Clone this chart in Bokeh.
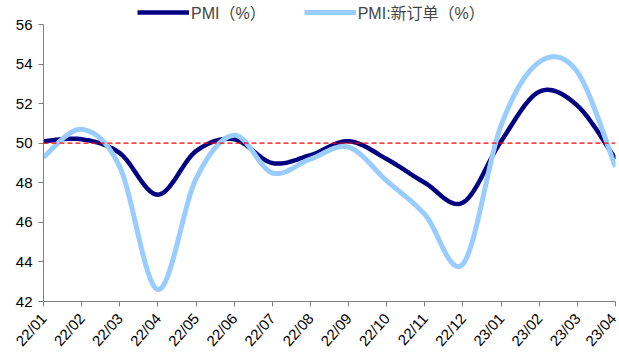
import numpy as np
from bokeh.embed import file_html
from bokeh.models import FixedTicker, Legend, LegendItem, Span
from bokeh.plotting import figure
from bokeh.resources import INLINE

# Monthly China manufacturing PMI and its new-orders sub-index
months = ["22/01", "22/02", "22/03", "22/04", "22/05", "22/06", "22/07", "22/08",
          "22/09", "22/10", "22/11", "22/12", "23/01", "23/02", "23/03", "23/04"]
pmi = [50.1, 50.2, 49.5, 47.4, 49.6, 50.2, 49.0, 49.4,
       50.1, 49.2, 48.0, 47.0, 50.1, 52.6, 51.9, 49.2]
new_orders = [49.3, 50.7, 48.8, 42.6, 48.2, 50.4, 48.5, 49.2,
              49.8, 48.1, 46.4, 43.9, 50.9, 54.1, 53.6, 48.8]
y_ticks = [42, 44, 46, 48, 50, 52, 54, 56]
threshold = 50

FONT = "Liberation Sans, Noto Sans CJK SC"


def smooth(xs, ys, steps=30):
    """Bezier smoothing through every point (tangent = neighbour difference / 6)."""
    xs = np.asarray(xs, float)
    ys = np.asarray(ys, float)
    n = len(xs)
    px, py = [], []
    for i in range(n - 1):
        i0, i3 = max(i - 1, 0), min(i + 2, n - 1)
        c1x = xs[i] + (xs[i + 1] - xs[i0]) / 6
        c1y = ys[i] + (ys[i + 1] - ys[i0]) / 6
        c2x = xs[i + 1] - (xs[i3] - xs[i]) / 6
        c2y = ys[i + 1] - (ys[i3] - ys[i]) / 6
        t = np.linspace(0, 1, steps, endpoint=(i == n - 2))
        a, b, c, d = (1 - t) ** 3, 3 * (1 - t) ** 2 * t, 3 * (1 - t) * t ** 2, t ** 3
        px.extend(a * xs[i] + b * c1x + c * c2x + d * xs[i + 1])
        py.extend(a * ys[i] + b * c1y + c * c2y + d * ys[i + 1])
    return px, py


x = list(range(len(months)))

# frame reaches the top edge so the legend sits inside it, above the 56 tick
y_lo, y_hi = 42, 56
y_top = y_hi + 24 * (y_hi - y_lo) / 277

p = figure(width=619, height=357, output_backend="svg", toolbar_location=None,
           x_range=(0, len(months) - 1), y_range=(y_lo, y_top),
           min_border_left=43, min_border_right=4, min_border_top=0, min_border_bottom=56)
p.outline_line_color = None
p.xgrid.visible = False
p.ygrid.visible = False
p.background_fill_color = "white"
p.border_fill_color = "white"

sx, sy = smooth(x, pmi)
r1 = p.line(sx, sy, line_color="#000080", line_width=4.5)
sx2, sy2 = smooth(x, new_orders)
r2 = p.line(sx2, sy2, line_color="#99CCFF", line_width=5)

p.add_layout(Span(location=threshold, dimension="width", line_color="#FF0000",
                  line_width=1.3, line_dash="5 3"))

# axes
for ax in (p.xaxis[0], p.yaxis[0]):
    ax.axis_line_color = "#808080"
    ax.major_tick_line_color = "#808080"
    ax.minor_tick_line_color = None
    ax.major_label_text_font = FONT
    ax.major_label_text_font_size = "15px"
    ax.major_label_text_color = "#000000"
    ax.major_tick_in = 0
    ax.major_tick_out = 5

p.xaxis.ticker = FixedTicker(ticks=x)
p.xaxis.major_label_overrides = {i: m for i, m in enumerate(months)}
p.xaxis.major_label_orientation = 0.84
p.xaxis.major_label_standoff = 9
p.yaxis.ticker = FixedTicker(ticks=y_ticks)
p.yaxis.bounds = (y_lo, y_hi)
p.yaxis.major_label_standoff = 6

legend = Legend(items=[LegendItem(label="PMI（%）", renderers=[r1]),
                       LegendItem(label="PMI:新订单（%）", renderers=[r2])],
                orientation="horizontal", location=(94, 277),
                border_line_color=None, background_fill_alpha=0,
                label_text_font=FONT, label_text_font_size="16px",
                label_height=16, glyph_height=16,
                glyph_width=52, label_standoff=2, spacing=38, padding=0, margin=0)
p.add_layout(legend)

open("out.html", "w").write(file_html(p, INLINE))
